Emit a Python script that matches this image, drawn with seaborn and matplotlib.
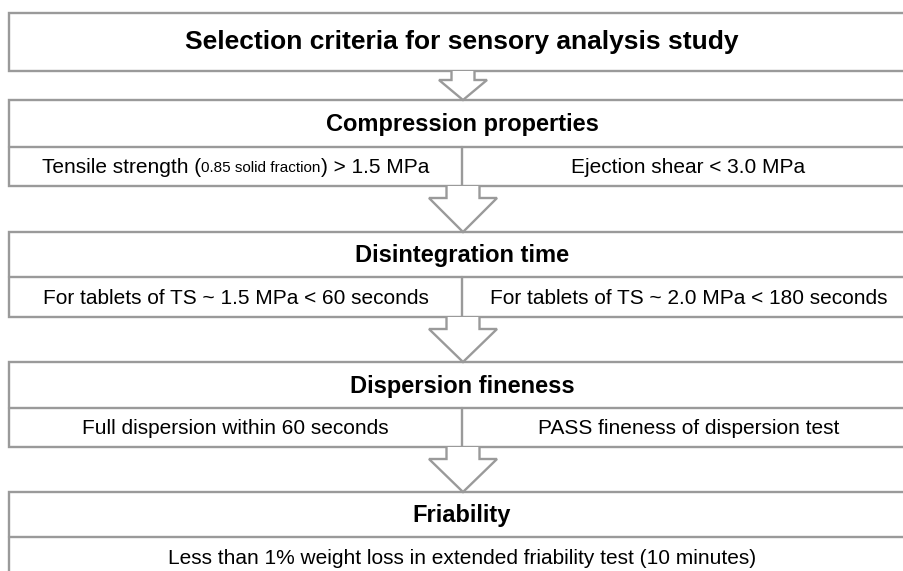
import matplotlib
matplotlib.use("Agg")
import matplotlib.pyplot as plt
import seaborn as sns
from matplotlib.patches import Rectangle, Polygon

sns.set_theme(style="white")
plt.rcParams['font.family'] = ['Liberation Sans Narrow', 'Liberation Sans', 'DejaVu Sans']
plt.rcParams['text.color'] = 'black'

# Flowchart content
title = "Selection criteria for sensory analysis study"
headers = ["Compression properties", "Disintegration time", "Dispersion fineness", "Friability"]
left_criteria = [
    ("Tensile strength (", "0.85 solid fraction", ") > 1.5 MPa"),
    "For tablets of TS ~ 1.5 MPa < 60 seconds",
    "Full dispersion within 60 seconds",
    "Less than 1% weight loss in extended friability test (10 minutes)",
]
right_criteria = [
    "Ejection shear < 3.0 MPa",
    "For tablets of TS ~ 2.0 MPa < 180 seconds",
    "PASS fineness of dispersion test",
    None,
]

# Layout (pixel coordinates, y downwards)
x_left, x_right, x_mid = 9, 915, 462
title_box = (13, 71)
box_tops = [100, 232, 362, 492]
box_divs = [147, 277, 408, 537]
box_bots = [186, 317, 447, 578]
edge = "#9a9a9a"
lw = 1.7

fig = plt.figure(figsize=(9.04, 5.71), dpi=100)
ax = fig.add_axes([0, 0, 1, 1])
ax.set_xlim(0, 904)
ax.set_ylim(571, 0)
ax.axis("off")


def box(y0, y1):
    ax.add_patch(Rectangle((x_left, y0), x_right - x_left, y1 - y0,
                           facecolor="white", edgecolor=edge, lw=lw, zorder=1))


def arrow(y0, y1, shaft_hw, head_hw, shaft_len):
    cx = x_mid + 1
    pts = [(cx - shaft_hw, y0), (cx - shaft_hw, y0 + shaft_len), (cx - head_hw, y0 + shaft_len),
           (cx, y1), (cx + head_hw, y0 + shaft_len), (cx + shaft_hw, y0 + shaft_len),
           (cx + shaft_hw, y0)]
    ax.add_patch(Polygon(pts, closed=False, facecolor="white", edgecolor=edge, lw=lw, zorder=3))


# title box
box(*title_box)
ax.text(x_mid, sum(title_box) / 2, title, ha="center", va="center",
        fontsize=19, fontweight="bold", zorder=5)

prev_bottom = title_box[1]
for i, head in enumerate(headers):
    top, div, bot = box_tops[i], box_divs[i], box_bots[i]
    if i == 0:
        arrow(prev_bottom, top, 11.5, 24, 9)
    else:
        arrow(prev_bottom, top, 16.5, 34, 12)
    box(top, bot)
    ax.plot([x_left, x_right], [div, div], color=edge, lw=lw, zorder=2)
    ax.text(x_mid, (top + div) / 2 + 1, head, ha="center", va="center",
            fontsize=17, fontweight="bold", zorder=5)
    row_y = (div + bot) / 2 + 1
    right = right_criteria[i]
    left = left_criteria[i]
    if right is None:
        ax.text(x_mid, row_y, left, ha="center", va="center", fontsize=15, zorder=5)
    else:
        ax.plot([x_mid, x_mid], [div, bot], color=edge, lw=lw, zorder=2)
        ax.text((x_right + x_mid) / 2, row_y, right, ha="center", va="center", fontsize=15, zorder=5)
        if isinstance(left, tuple):
            # mixed font sizes, centred as a whole in the left cell
            r = fig.canvas.get_renderer()
            sizes = [15, 11, 15]
            parts = [ax.text(0, row_y, s, ha="left", va="center", fontsize=fs, zorder=5)
                     for s, fs in zip(left, sizes)]
            widths = [p.get_window_extent(r).width for p in parts]
            x = (x_left + x_mid) / 2 - sum(widths) / 2
            for p, w in zip(parts, widths):
                p.set_x(x)
                x += w
        else:
            ax.text((x_left + x_mid) / 2, row_y, left, ha="center", va="center", fontsize=15, zorder=5)
    prev_bottom = bot

fig.savefig("out.png", dpi=100)
